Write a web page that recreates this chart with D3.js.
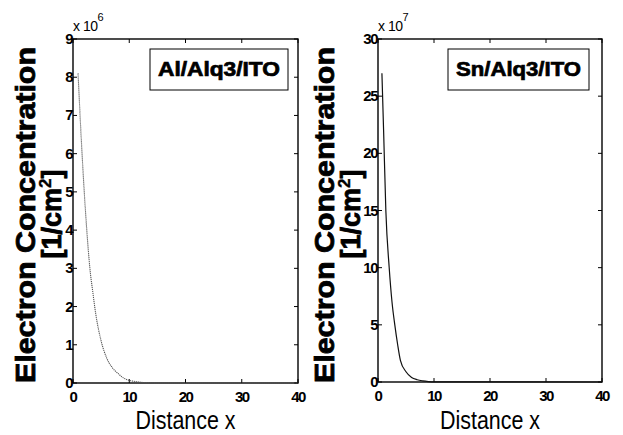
<!DOCTYPE html>
<html>
<head>
<meta charset="utf-8">
<script src="https://cdn.jsdelivr.net/npm/d3@7"></script>
<style>
  body { margin: 0; background: #fff; }
  svg { display: block; font-family: "Liberation Sans", Arial, sans-serif; }
</style>
</head>
<body>
<svg id="chart" width="623" height="435"></svg>
<script>
// Data (y in units of the axis multiplier)
const alX = [0.9, 1.5, 2, 2.5, 3, 3.5, 4, 5, 6, 7, 8, 9, 10, 11, 12, 13, 15, 40];
const alY = [8.1, 6.3, 5.0, 3.9, 3.0, 2.4, 1.85, 1.1, 0.65, 0.4, 0.25, 0.13, 0.07, 0.04, 0.02, 0.01, 0.004, 0];
const snX = [0.7, 1.0, 1.4, 2, 2.5, 3, 3.5, 4, 5, 6, 7, 8, 9, 10, 40];
const snY = [27, 22, 15, 10, 7, 5, 3.3, 1.9, 0.9, 0.4, 0.2, 0.1, 0.04, 0.01, 0];

const xTicks = [0, 10, 20, 30, 40];
const alYTicks = [0, 1, 2, 3, 4, 5, 6, 7, 8, 9];
const snYTicks = [0, 5, 10, 15, 20, 25, 30];

const panels = [
  { left: 73, right: 298, top: 39, bottom: 383, yMax: 9, yTicks: alYTicks, xs: alX, ys: alY,
    exp: "6", legend: "Al/Alq3/ITO", legX: 150, legW: 138, labX: 35,
    stroke: "#555", dash: "1.2,0.8", width: 1.1 },
  { left: 378, right: 602, top: 39, bottom: 382, yMax: 30, yTicks: snYTicks, xs: snX, ys: snY,
    exp: "7", legend: "Sn/Alq3/ITO", legX: 448, legW: 141, labX: 334,
    stroke: "#111", dash: null, width: 1.2 }
];

const svg = d3.select("#chart");

panels.forEach(p => {
  const x = d3.scaleLinear().domain([0, 40]).range([p.left, p.right]);
  const y = d3.scaleLinear().domain([0, p.yMax]).range([p.bottom, p.top]);
  const g = svg.append("g");
  const tick = 4;

  // frame
  g.append("rect")
    .attr("x", p.left).attr("y", p.top)
    .attr("width", p.right - p.left).attr("height", p.bottom - p.top)
    .attr("fill", "none").attr("stroke", "#000").attr("stroke-width", 1.4);

  // inside ticks on all four sides
  xTicks.forEach(t => {
    g.append("line").attr("x1", x(t)).attr("x2", x(t)).attr("y1", p.bottom).attr("y2", p.bottom - tick).attr("stroke", "#000");
    g.append("line").attr("x1", x(t)).attr("x2", x(t)).attr("y1", p.top).attr("y2", p.top + tick).attr("stroke", "#000");
  });
  p.yTicks.forEach(t => {
    g.append("line").attr("x1", p.left).attr("x2", p.left + tick).attr("y1", y(t)).attr("y2", y(t)).attr("stroke", "#000");
    g.append("line").attr("x1", p.right).attr("x2", p.right - tick).attr("y1", y(t)).attr("y2", y(t)).attr("stroke", "#000");
  });

  // tick labels
  g.selectAll(".xt").data(xTicks).join("text")
    .attr("x", d => x(d)).attr("y", p.bottom + 19)
    .attr("text-anchor", "middle").attr("font-size", 15).attr("font-weight", "bold").attr("letter-spacing", -1.5)
    .text(d => d);
  g.selectAll(".yt").data(p.yTicks).join("text")
    .attr("x", p.left - 1).attr("y", d => y(d) + 5)
    .attr("text-anchor", "end").attr("font-size", 15).attr("font-weight", "bold").attr("letter-spacing", -1.5)
    .text(d => d);

  // exponent
  const ex = g.append("text").attr("x", p.left).attr("y", 31).attr("font-size", 14).attr("letter-spacing", -0.5);
  ex.append("tspan").text("x 10");
  ex.append("tspan").attr("dy", -10).attr("font-size", 11).text(p.exp);

  // curve
  const line = d3.line().x((d, i) => x(p.xs[i])).y(d => y(d)).curve(d3.curveMonotoneX);
  g.append("path").datum(p.ys)
    .attr("d", line)
    .attr("fill", "none")
    .attr("stroke", p.stroke)
    .attr("stroke-width", p.width)
    .attr("stroke-dasharray", p.dash);

  // legend
  g.append("rect")
    .attr("x", p.legX).attr("y", 49).attr("width", p.legW).attr("height", 41)
    .attr("fill", "#fff").attr("stroke", "#000").attr("stroke-width", 1);
  g.append("text")
    .attr("x", p.legX + p.legW / 2).attr("y", 76)
    .attr("text-anchor", "middle").attr("font-size", 20).attr("font-weight", "bold")
    .attr("stroke", "#000").attr("stroke-width", 0.7)
    .attr("textLength", p.legW - 16).attr("lengthAdjust", "spacingAndGlyphs")
    .text(p.legend);

  // x label
  g.append("text")
    .attr("x", (p.left + p.right) / 2).attr("y", 429)
    .attr("text-anchor", "middle").attr("font-size", 26)
    .attr("textLength", 100).attr("lengthAdjust", "spacingAndGlyphs")
    .text("Distance x");

  // y label, two lines
  const cy = 215;
  g.append("text")
    .attr("transform", `translate(${p.labX},${cy}) rotate(-90)`)
    .attr("text-anchor", "middle").attr("font-size", 27).attr("font-weight", "bold")
    .attr("stroke", "#000").attr("stroke-width", 0.8)
    .attr("textLength", 336).attr("lengthAdjust", "spacingAndGlyphs")
    .text("Electron Concentration");
  const l2 = g.append("text")
    .attr("transform", `translate(${p.labX + 26},${cy - 1}) rotate(-90)`)
    .attr("text-anchor", "middle").attr("font-size", 27).attr("font-weight", "bold")
    .attr("stroke", "#000").attr("stroke-width", 0.8);
  l2.append("tspan").text("[1/cm");
  l2.append("tspan").attr("dy", -10).attr("font-size", 17).attr("stroke-width", 0.4).text("2");
  l2.append("tspan").attr("dy", 10).text("]");
});
</script>
</body>
</html>
